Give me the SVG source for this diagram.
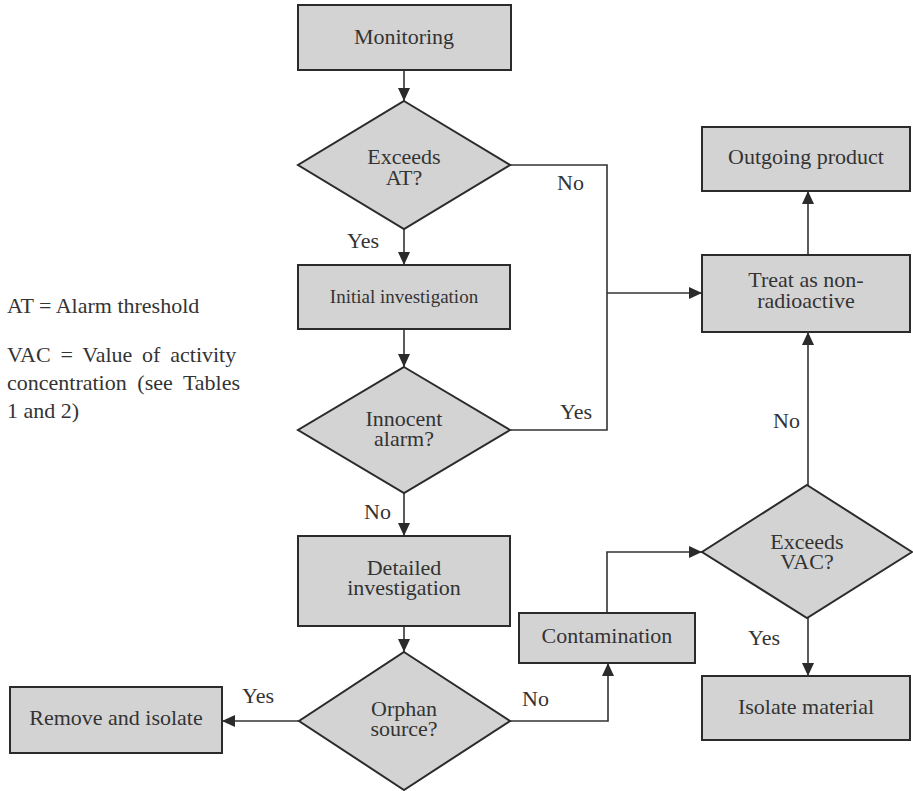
<svg xmlns="http://www.w3.org/2000/svg" width="913" height="791" viewBox="0 0 913 791">
  <style>
    .box { fill: #d3d3d3; stroke: #2b2b2b; stroke-width: 2; }
    text { font-family: "Liberation Serif", Tinos, "Times New Roman", "DejaVu Serif", "Noto Serif", serif; font-size: 22px; fill: #333; }
    .t { text-anchor: middle; }
    .s { font-size: 19px; }
    .c { fill: none; stroke: #333; stroke-width: 1.6; }
  </style>
  <defs>
    <marker id="ah" markerUnits="userSpaceOnUse" markerWidth="14" markerHeight="12" refX="13" refY="6" orient="auto">
      <path d="M0,0 L13,6 L0,12 Z" fill="#2b2b2b"/>
    </marker>
  </defs>
  <rect width="913" height="791" fill="#ffffff"/>

  <g id="connectors">
    <path class="c" d="M404,70 V101" marker-end="url(#ah)"/>
    <path class="c" d="M404,229 V265" marker-end="url(#ah)"/>
    <path class="c" d="M510,165 H607 V430 H510"/>
    <path class="c" d="M607,293 H702" marker-end="url(#ah)"/>
    <path class="c" d="M404,329 V367" marker-end="url(#ah)"/>
    <path class="c" d="M404,493 V536" marker-end="url(#ah)"/>
    <path class="c" d="M404,626 V652" marker-end="url(#ah)"/>
    <path class="c" d="M299,721 H222" marker-end="url(#ah)"/>
    <path class="c" d="M510,721 H608 V663" marker-end="url(#ah)"/>
    <path class="c" d="M607,613 V552 H702" marker-end="url(#ah)"/>
    <path class="c" d="M808,485 V332" marker-end="url(#ah)"/>
    <path class="c" d="M808,618 V676" marker-end="url(#ah)"/>
    <path class="c" d="M808,255 V191" marker-end="url(#ah)"/>
    <text x="347" y="248">Yes</text>
    <text x="557" y="190">No</text>
    <text x="560" y="419">Yes</text>
    <text x="364" y="519">No</text>
    <text x="748" y="645">Yes</text>
    <text x="773" y="428">No</text>
    <text x="242" y="703">Yes</text>
    <text x="522" y="706">No</text>
  </g>

  <g id="monitoring">
    <rect class="box" x="298" y="5" width="213" height="65"/>
    <text class="t" x="404" y="44">Monitoring</text>
  </g>

  <g id="exceeds-at">
    <polygon class="box" points="404,101 510,165 404,229 298,165"/>
    <text class="t" x="404" y="164">Exceeds</text>
    <text class="t" x="404" y="185">AT?</text>
  </g>

  <g id="initial-investigation">
    <rect class="box" x="298" y="265" width="212" height="64"/>
    <text class="t s" x="404" y="303">Initial investigation</text>
  </g>

  <g id="innocent-alarm">
    <polygon class="box" points="404,367 510,430 404,493 298,430"/>
    <text class="t" x="404" y="426">Innocent</text>
    <text class="t" x="404" y="446">alarm?</text>
  </g>

  <g id="detailed-investigation">
    <rect class="box" x="298" y="536" width="212" height="90"/>
    <text class="t" x="404" y="575">Detailed</text>
    <text class="t" x="404" y="595">investigation</text>
  </g>

  <g id="orphan-source">
    <polygon class="box" points="404,652 510,721 404,790 299,721"/>
    <text class="t" x="404" y="716">Orphan</text>
    <text class="t" x="404" y="736">source?</text>
  </g>

  <g id="remove-isolate">
    <rect class="box" x="10" y="687" width="212" height="66"/>
    <text class="t" x="116" y="725">Remove and isolate</text>
  </g>

  <g id="contamination">
    <rect class="box" x="519" y="613" width="176" height="50"/>
    <text class="t" x="607" y="643">Contamination</text>
  </g>

  <g id="exceeds-vac">
    <polygon class="box" points="807,485 912,552 807,618 702,552"/>
    <text class="t" x="807" y="549">Exceeds</text>
    <text class="t" x="807" y="569">VAC?</text>
  </g>

  <g id="isolate-material">
    <rect class="box" x="702" y="676" width="208" height="64"/>
    <text class="t" x="806" y="714">Isolate material</text>
  </g>

  <g id="treat-non-radioactive">
    <rect class="box" x="702" y="255" width="208" height="77"/>
    <text class="t" x="806" y="287">Treat as non-</text>
    <text class="t" x="806" y="308">radioactive</text>
  </g>

  <g id="outgoing-product">
    <rect class="box" x="702" y="127" width="208" height="64"/>
    <text class="t" x="806" y="164">Outgoing product</text>
  </g>

  <g id="legend">
    <text x="7" y="313">AT = Alarm threshold</text>
    <text x="7" y="362" word-spacing="4.3">VAC = Value of activity</text>
    <text x="7" y="390" word-spacing="5.1">concentration (see Tables</text>
    <text x="7" y="418">1 and 2)</text>
  </g>
</svg>
